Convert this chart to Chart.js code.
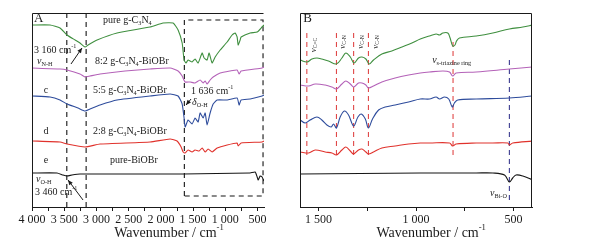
<!DOCTYPE html>
<html lang="en">
<head>
<meta charset="UTF-8">
<title>FTIR spectra</title>
<script src="https://cdn.jsdelivr.net/npm/chart.js"></script>
<style>
    body { margin: 0; background: #ffffff; }
    #wrap { position: relative; width: 591px; height: 251px; }
    #wrap canvas { position: absolute; top: 0; }
    #chartA { left: 0; }
    #chartB { left: 290px; }
</style>
</head>
<body>
<div id="wrap">
    <canvas id="chartA" width="290" height="251"></canvas>
    <canvas id="chartB" width="301" height="251"></canvas>
</div>
<script>
// ---- panel A: 4000-400 cm-1, [wavenumber, transmittance (a.u., offset)] ----
const greenA = [[4000,182],[3720,182],[3565,179],[3457,172],[3332,167],[3255,164],[3177,160],[3130,162],[2990,167],[2680,174],[2168,180],[1966,184],[1810,184],[1733,177],[1670,164],[1640,147],[1610,144],[1578,147],[1516,145],[1470,148],[1422,144],[1360,154],[1329,149],[1283,147],[1252,154],[1205,144],[1158,150],[1080,157],[972,165],[895,172],[848,174],[817,170],[801,162],[770,167],[755,170],[615,174],[506,175],[430,180],[400,182]];
const pinkA = [[4000,139],[3565,138],[3457,137],[3255,133],[3177,130],[3100,131],[2944,133],[2556,136],[2168,138],[1857,139],[1733,136],[1670,131],[1624,125],[1546,125],[1470,124],[1391,127],[1344,124],[1313,126],[1283,123],[1236,127],[1189,130],[1080,134],[925,136],[817,137],[786,133],[755,136],[430,139],[400,140]];
const blueA = [[4000,111],[3720,110],[3565,107],[3457,103],[3286,99],[3177,96],[3100,98],[2944,102],[2680,107],[2168,111],[1857,113],[1733,111],[1670,103],[1640,89],[1624,80],[1578,87],[1516,83],[1470,89],[1422,85],[1391,94],[1344,89],[1313,94],[1283,82],[1236,94],[1189,103],[1127,107],[972,107],[817,109],[786,102],[755,107],[615,108],[430,111],[400,112]];
const redA = [[4000,66],[3565,65],[3457,63],[3177,60],[2944,63],[2168,65],[1857,68],[1749,66],[1686,60],[1655,55],[1624,54],[1578,57],[1516,55],[1470,57],[1407,56],[1360,59],[1313,55],[1267,58],[1205,55],[1127,59],[972,62],[817,64],[801,61],[755,64],[430,65],[400,66]];
const blackA = [[4000,34],[3612,34],[3519,32],[3457,31],[3380,32],[3255,33],[2168,33],[1655,33],[615,34],[537,35],[506,30],[490,27],[460,31],[430,30],[400,26]];
const marksA = [3460, 3160];
const boxAx = [1636, 415];
const boxAy = [11, 187];
const ticksA = [4000, 3500, 3000, 2500, 2000, 1500, 1000, 500];
const tickLabelsA = ['4 000', '3 500', '3 000', '2 500', '2 000', '1 500', '1 000', '500'];

// ---- panel B: 1595-405 cm-1 ----
const greenB = [[1594,147],[1559,145],[1534,148],[1508,149],[1483,148],[1449,146],[1408,143],[1380,149],[1360,154],[1337,150],[1318,144],[1295,149],[1277,150],[1257,148],[1240,143],[1218,147],[1175,153],[1124,156],[1072,160],[1021,164],[978,168],[931,171],[897,173],[879,172],[862,174],[837,174],[825,169],[812,161],[800,162],[792,166],[777,169],[691,171],[606,174],[521,178],[452,180],[401,182]];
const pinkB = [[1594,122],[1551,121],[1517,123],[1466,122],[1431,120],[1408,118],[1380,123],[1360,126],[1337,123],[1320,120],[1295,124],[1277,124],[1257,122],[1244,119],[1218,121],[1175,125],[1107,129],[1038,132],[978,134],[931,135],[862,136],[828,135],[812,131],[794,134],[691,135],[521,138],[401,140]];
const blueB = [[1594,87],[1568,84],[1543,87],[1508,90],[1483,87],[1457,82],[1435,80],[1423,83],[1408,79],[1389,90],[1367,96],[1346,92],[1320,81],[1298,90],[1281,93],[1260,88],[1244,79],[1223,88],[1192,97],[1158,100],[1107,102],[1038,105],[978,108],[931,108],[897,110],[879,108],[854,110],[832,108],[814,100],[803,104],[786,107],[691,108],[521,109],[401,111]];
const redB = [[1594,55],[1551,54],[1517,57],[1466,55],[1431,54],[1408,52],[1380,57],[1360,60],[1337,56],[1320,53],[1295,57],[1277,58],[1257,55],[1244,53],[1218,55],[1175,59],[1107,61],[1038,63],[978,64],[931,64],[828,64],[812,61],[794,63],[691,64],[606,64],[529,64],[521,62],[504,64],[401,66]];
const blackB = [[1594,33],[978,34],[691,34],[606,34],[546,32],[521,25],[504,29],[487,32],[452,31],[401,27]];
const marksB = [1560, 1408, 1320, 1244];
const markTriazine = 810;
const markBiO = 521;
const ticksB = [1500, 1000, 500];
const tickLabelsB = ['1 500', '1 000', '500'];

const SERIF = '"Liberation Serif", "DejaVu Serif", serif';
const INK = '#1a1a1a';

function pts(arr) { return arr.map(p => ({ x: p[0], y: p[1] })); }
function vline(x, y0, y1) { return [{ x: x, y: y0 }, { x: x, y: y1 }]; }

function spectrum(arr, color, tension) {
    return { data: pts(arr), borderColor: color, borderWidth: 1.1, pointRadius: 0, showLine: true, tension: tension, fill: false };
}
function dashed(data, color) {
    return { data: data, borderColor: color, borderWidth: 1.1, borderDash: [5, 4], pointRadius: 0, showLine: true, tension: 0, fill: false };
}

// text with _{sub} and ^{sup}, greek letters italic
function drawRich(ctx, str, x, y, size, align) {
    const parts = [];
    const re = /([_^])\{([^}]*)\}/g;
    let last = 0, m;
    while ((m = re.exec(str))) {
        if (m.index > last) parts.push([str.slice(last, m.index), '']);
        parts.push([m[2], m[1]]);
        last = re.lastIndex;
    }
    if (last < str.length) parts.push([str.slice(last), '']);
    const segs = [];
    parts.forEach(p => {
        p[0].split(/([νδ])/).forEach(s => { if (s) segs.push({ t: s, k: p[1], it: /[νδ]/.test(s) }); });
    });
    const fontFor = s => (s.it ? 'italic ' : '') + (s.k ? size * 0.62 : size) + 'px ' + SERIF;
    let w = 0;
    segs.forEach(s => { ctx.font = fontFor(s); s.w = ctx.measureText(s.t).width; w += s.w; });
    let cx = align === 'center' ? x - w / 2 : align === 'right' ? x - w : x;
    ctx.textAlign = 'left';
    ctx.textBaseline = 'middle';
    segs.forEach(s => {
        ctx.font = fontFor(s);
        const dy = s.k === '_' ? size * 0.3 : s.k === '^' ? -size * 0.35 : 0;
        ctx.fillText(s.t, cx, y + dy);
        cx += s.w;
    });
}

function arrow(ctx, x1, y1, x2, y2) {
    ctx.beginPath(); ctx.moveTo(x1, y1); ctx.lineTo(x2, y2); ctx.stroke();
    const a = Math.atan2(y2 - y1, x2 - x1), L = 5, W = 2.2;
    ctx.beginPath();
    ctx.moveTo(x2, y2);
    ctx.lineTo(x2 - L * Math.cos(a) + W * Math.sin(a), y2 - L * Math.sin(a) - W * Math.cos(a));
    ctx.lineTo(x2 - L * Math.cos(a) - W * Math.sin(a), y2 - L * Math.sin(a) + W * Math.cos(a));
    ctx.closePath(); ctx.fill();
}

function notesPlugin(notes, arrows, titleX, fullBox) {
    return {
        id: 'notes',
        afterDatasetsDraw(chart) {
            const { ctx, chartArea: a, scales: { x, y } } = chart;
            ctx.save();
            ctx.strokeStyle = INK;
            ctx.fillStyle = INK;
            ctx.lineWidth = 1;
            ctx.beginPath();
            ctx.moveTo(a.left + 0.5, a.bottom);
            ctx.lineTo(a.left + 0.5, a.top + 0.5);
            ctx.lineTo(a.right - 0.5, a.top + 0.5);
            if (fullBox) ctx.lineTo(a.right - 0.5, a.bottom);
            ctx.stroke();
            notes.forEach(n => {
                const px = x.getPixelForValue(n.x), py = y.getPixelForValue(n.y);
                if (n.rot) {
                    ctx.save();
                    ctx.translate(px, py);
                    ctx.rotate(-Math.PI / 2);
                    drawRich(ctx, n.t, 0, 0, n.size || 10, 'center');
                    ctx.restore();
                } else {
                    drawRich(ctx, n.t, px, py, n.size || 10, n.align || 'left');
                }
            });
            arrows.forEach(r => {
                arrow(ctx, x.getPixelForValue(r[0]), y.getPixelForValue(r[1]), x.getPixelForValue(r[2]), y.getPixelForValue(r[3]));
            });
            drawRich(ctx, 'Wavenumber / cm^{-1}', x.getPixelForValue(titleX), 233, 14, 'center');
            ctx.restore();
        }
    };
}

function xAxis(min, max, majors, labels, step) {
    const all = [];
    for (let v = majors[0]; v >= majors[majors.length - 1]; v -= step) all.push(v);
    return {
        type: 'linear', reverse: true, min: min, max: max,
        afterBuildTicks: s => { s.ticks = all.map(v => ({ value: v })); },
        afterFit: s => { s.height = 44; },
        ticks: {
            autoSkip: false, maxRotation: 0, padding: 2, color: INK,
            font: { family: SERIF, size: 12 },
            callback: v => { const i = majors.indexOf(v); return i >= 0 ? labels[i] : ''; }
        },
        grid: { drawOnChartArea: false, tickLength: 4, color: INK, lineWidth: 1 },
        border: { color: INK, width: 1 }
    };
}

function baseOptions(padding, xScale) {
    return {
        responsive: false, animation: false, devicePixelRatio: 1,
        layout: { padding: padding },
        plugins: { legend: { display: false }, tooltip: { enabled: false } },
        scales: { x: xScale, y: { display: false, min: 0, max: 194 } }
    };
}

const notesA = [
    { t: 'A', x: 3969, y: 188, size: 13 },
    { t: 'pure g-C_{3}N_{4}', x: 2898, y: 187 },
    { t: '3 160 cm^{-1}', x: 3969, y: 157 },
    { t: 'ν_{N-H}', x: 3922, y: 146 },
    { t: '8:2 g-C_{3}N_{4}-BiOBr', x: 3022, y: 146 },
    { t: 'c', x: 3783, y: 117, align: 'center' },
    { t: '5:5 g-C_{3}N_{4}-BiOBr', x: 3053, y: 117 },
    { t: '1 636 cm^{-1}', x: 1532, y: 116 },
    { t: 'δ_{O-H}', x: 1517, y: 105 },
    { t: 'd', x: 3783, y: 76, align: 'center' },
    { t: '2:8 g-C_{3}N_{4}-BiOBr', x: 3053, y: 76 },
    { t: 'e', x: 3783, y: 47, align: 'center' },
    { t: 'pure-BiOBr', x: 2789, y: 47 },
    { t: 'ν_{O-H}', x: 3938, y: 28 },
    { t: '3 460 cm^{-1}', x: 3953, y: 15 }
];
const arrowsA = [[3395, 143, 3224, 159], [3208, 7, 3441, 27], [1532, 108, 1610, 102]];

const notesB = [
    { t: 'B', x: 1578, y: 188, size: 13 },
    { t: 'ν_{C=C}', x: 1527, y: 162, rot: true, size: 9 },
    { t: 'ν_{C-N}', x: 1378, y: 165, rot: true, size: 9 },
    { t: 'ν_{C-N}', x: 1286, y: 165, rot: true, size: 9 },
    { t: 'ν_{C-N}', x: 1209, y: 165, rot: true, size: 9 },
    { t: 'ν_{s-triazine ring}', x: 917, y: 147, size: 10 },
    { t: 'ν_{Bi-O}', x: 620, y: 14, size: 10 }
];

const GREEN = '#3f8f3f', PINK = '#b462b8', BLUE = '#2e4c9c', RED = '#e0322c', BLACK = '#151515';
const DRED = '#e04848', DBLUE = '#3c3c90';

const boxData = [
    { x: boxAx[0], y: boxAy[0] }, { x: boxAx[0], y: boxAy[1] }, { x: boxAx[1], y: boxAy[1] },
    { x: boxAx[1], y: boxAy[0] }, { x: boxAx[0], y: boxAy[0] }
];

new Chart(document.getElementById('chartA').getContext('2d'), {
    type: 'scatter',
    data: {
        datasets: [
            spectrum(greenA, GREEN, 0.15),
            spectrum(pinkA, PINK, 0.15),
            spectrum(blueA, BLUE, 0.15),
            spectrum(redA, RED, 0.15),
            spectrum(blackA, BLACK, 0.15)
        ].concat(marksA.map(v => dashed(vline(v, 0, 194), BLACK)))
         .concat([dashed(boxData, BLACK)])
    },
    options: baseOptions({ left: 32, right: 26, top: 13, bottom: 0 }, xAxis(400, 4000, ticksA, tickLabelsA, 250)),
    plugins: [notesPlugin(notesA, arrowsA, 1874, false)]
});

new Chart(document.getElementById('chartB').getContext('2d'), {
    type: 'scatter',
    data: {
        datasets: [
            spectrum(greenB, GREEN, 0.35),
            spectrum(pinkB, PINK, 0.35),
            spectrum(blueB, BLUE, 0.35),
            spectrum(redB, RED, 0.35),
            spectrum(blackB, BLACK, 0.35)
        ].concat(marksB.map(v => dashed(vline(v, 174, 49), DRED)))
         .concat([dashed(vline(markTriazine, 165, 49), DRED), dashed(vline(markBiO, 147, 4), DBLUE)])
    },
    options: baseOptions({ left: 10, right: 59, top: 13, bottom: 0 }, xAxis(405, 1595, ticksB, tickLabelsB, 250)),
    plugins: [notesPlugin(notesB, [], 922, true)]
});
</script>
</body>
</html>
